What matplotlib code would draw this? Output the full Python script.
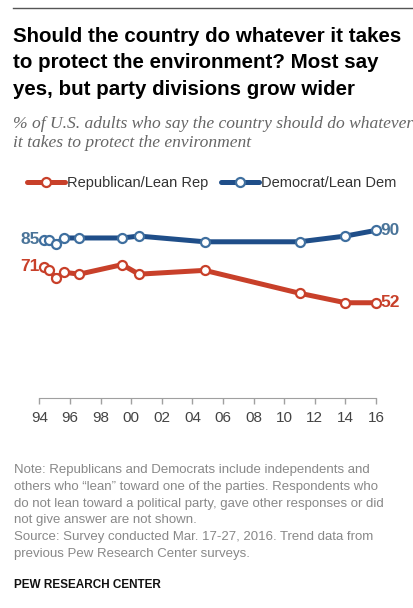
import matplotlib
matplotlib.use("Agg")
import matplotlib.pyplot as plt
from matplotlib.lines import Line2D

# survey dates (fractional years) and share saying "do whatever it takes"
years = [1994.3, 1994.6, 1995.1, 1995.6, 1996.6, 1999.4, 2000.5, 2004.8, 2011.0, 2014.0, 2016.0]
rep = [71, 69, 65, 68, 67, 72, 67, 69, 57, 52, 52]
dem = [85, 85, 83, 86, 86, 86, 87, 84, 84, 87, 90]
tick_years = list(range(1994, 2017, 2))
tick_labels = ["94", "96", "98", "00", "02", "04", "06", "08", "10", "12", "14", "16"]

title_lines = ["Should the country do whatever it takes",
               "to protect the environment? Most say",
               "yes, but party divisions grow wider"]
subtitle_lines = ["% of U.S. adults who say the country should do whatever",
                  "it takes to protect the environment"]
note_lines = ["Note: Republicans and Democrats include independents and",
              "others who \u201clean\u201d toward one of the parties. Respondents who",
              "do not lean toward a political party, gave other responses or did",
              "not give answer are not shown.",
              "Source: Survey conducted Mar. 17-27, 2016. Trend data from",
              "previous Pew Research Center surveys."]

RED = "#c8402a"
BLUE = "#1f4e89"
BLUE_LBL = "#4a7499"
W, H = 414, 608

plt.rcParams["font.family"] = "Liberation Sans"
fig = plt.figure(figsize=(W / 100, H / 100), dpi=100)

def fx(px):
    return px / W

def fy(py):
    return 1 - py / H

# top rule
fig.add_artist(Line2D([fx(13), fx(413)], [fy(8), fy(8)], color="#555555", lw=1))

for i, line in enumerate(title_lines):
    fig.text(fx(13), fy(41.7 + i * 26.8), line, fontsize=14.8, fontweight="bold",
             color="black", va="baseline")
for i, line in enumerate(subtitle_lines):
    fig.text(fx(13), fy(127.7 + i * 19.5), line, fontsize=12.6, fontstyle="italic",
             family="Liberation Serif", color="#666666", va="baseline")

# plot area: 1993..2017 horizontally, value 2..100 vertically
ax = fig.add_axes([fx(24.2), fy(398), fx(367.1), 186.7 / H])
ax.set_xlim(1993, 2017)
ax.set_ylim(2, 100)

mk = dict(marker="o", markersize=6.5, markerfacecolor="white", markeredgewidth=1.6,
          lw=3.6, solid_capstyle="round")
lr, = ax.plot(years, rep, color=RED, markeredgecolor=RED, label="Republican/Lean Rep", **mk)
ld, = ax.plot(years, dem, color=BLUE, markeredgecolor="#3f6f9f", label="Democrat/Lean Dem", **mk)

ax.annotate(str(rep[0]), (years[0], rep[0]), xytext=(-3, 0), textcoords="offset points",
            ha="right", va="center", fontsize=12.5, fontweight="bold", color=RED)
ax.annotate(str(rep[-1]), (years[-1], rep[-1]), xytext=(3.5, 0), textcoords="offset points",
            ha="left", va="center", fontsize=12.5, fontweight="bold", color=RED)
ax.annotate(str(dem[0]), (years[0], dem[0]), xytext=(-3, 0), textcoords="offset points",
            ha="right", va="center", fontsize=12.5, fontweight="bold", color=BLUE_LBL)
ax.annotate(str(dem[-1]), (years[-1], dem[-1]), xytext=(3.5, 0), textcoords="offset points",
            ha="left", va="center", fontsize=12.5, fontweight="bold", color=BLUE_LBL)

for s in ["top", "left", "right"]:
    ax.spines[s].set_visible(False)
ax.spines["bottom"].set_bounds(1994, 2016)
ax.spines["bottom"].set_color("#a0a0a0")
ax.set_yticks([])
ax.set_xticks(tick_years)
ax.set_xticklabels(tick_labels)
ax.tick_params(axis="x", direction="out", length=4, width=1, color="#a0a0a0",
               labelsize=11, labelcolor="#444444", pad=5)
ax.patch.set_alpha(0)

fig.legend(handles=[lr, ld], loc="center left", bbox_to_anchor=(fx(27), fy(183)),
           ncol=2, frameon=False, fontsize=10.5, handlelength=2.6, handletextpad=0.15,
           columnspacing=0.85, borderpad=0, borderaxespad=0, labelcolor="#333333")

for i, line in enumerate(note_lines):
    fig.text(fx(14), fy(473.3 + i * 16.7), line, fontsize=9.5, color="#888888", va="baseline")
fig.text(fx(14), fy(588.3), "PEW RESEARCH CENTER", fontsize=8.5, fontweight="bold",
         color="#111111", va="baseline")

fig.savefig("out.png", dpi=100)
